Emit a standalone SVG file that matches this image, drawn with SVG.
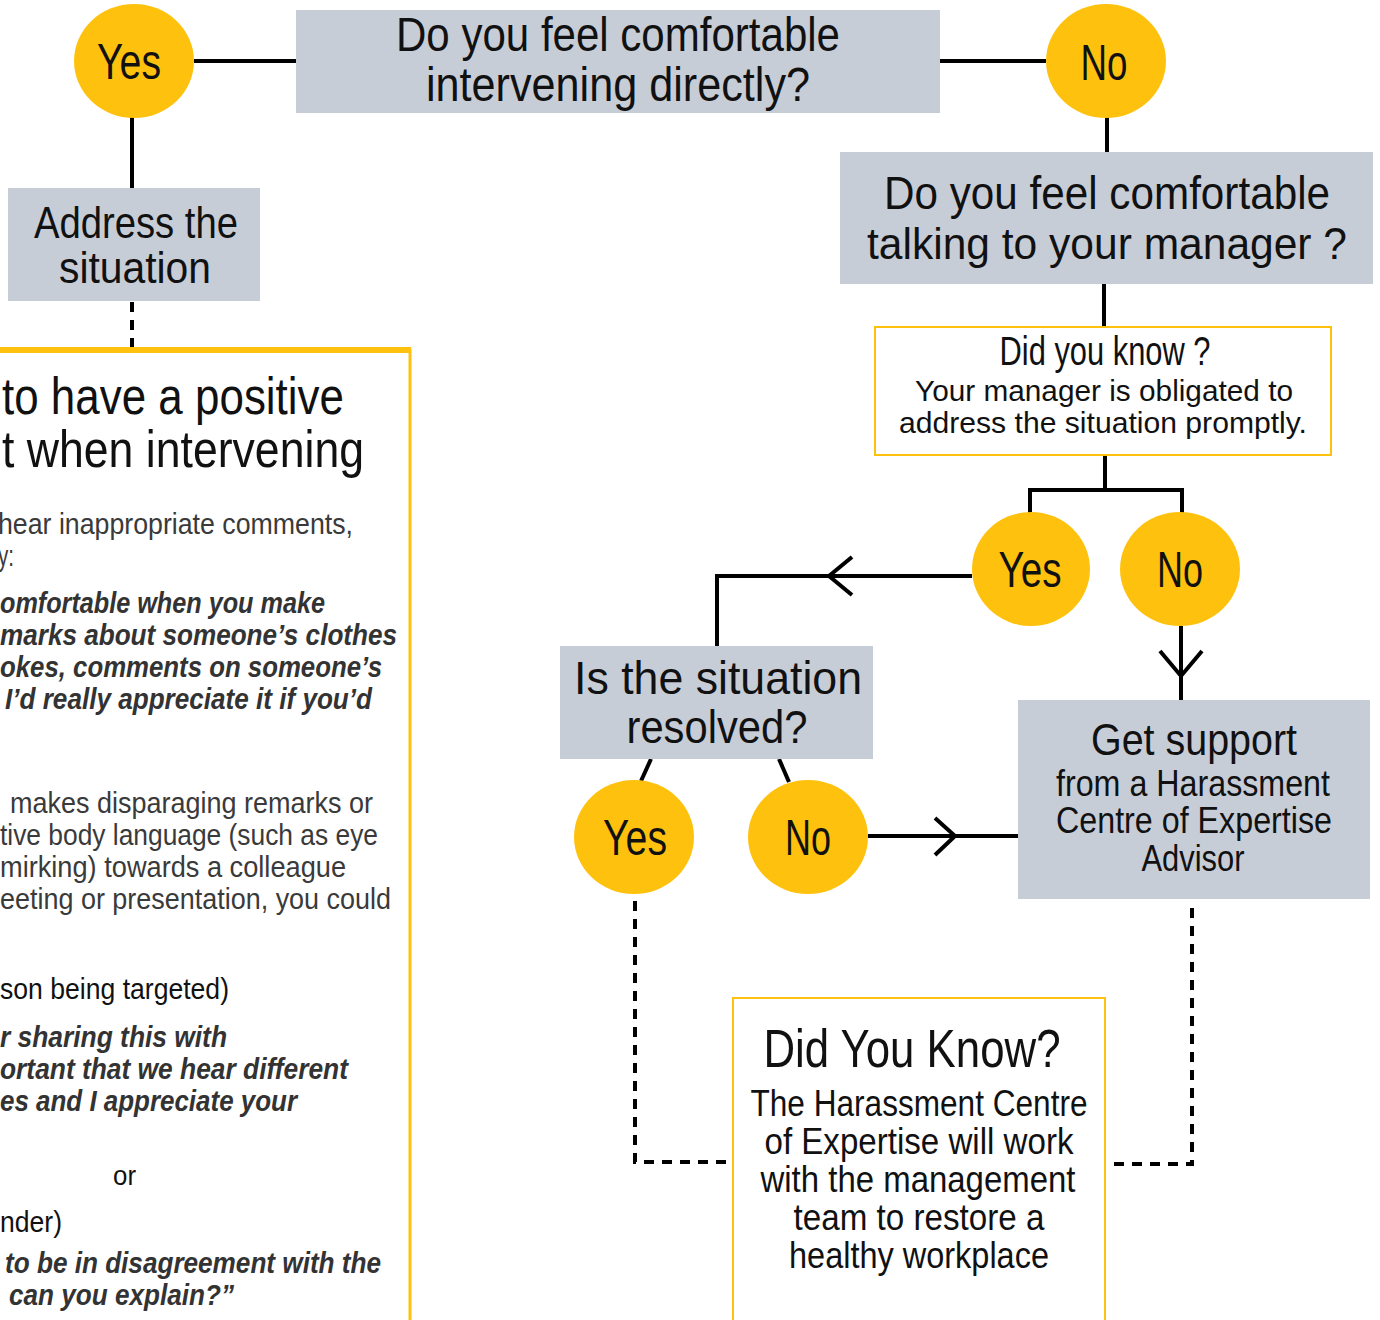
<svg xmlns="http://www.w3.org/2000/svg" width="1380" height="1320" viewBox="0 0 1380 1320">
<style>
.t{font-family:"Liberation Sans","DejaVu Sans",sans-serif;fill:#111;}
.c{text-anchor:middle;}
.b{font-family:"Liberation Sans","DejaVu Sans",sans-serif;fill:#3a3a3a;}
.bi{font-family:"Liberation Sans","DejaVu Sans",sans-serif;fill:#333;font-weight:bold;font-style:italic;}
.box{fill:#C7CDD7;}
.dot{fill:#FEC20E;}
.ybox{fill:#fff;stroke:#FEC20E;stroke-width:2;}
.ln{stroke:#000;stroke-width:4;fill:none;}
.ds{stroke:#000;stroke-width:4;fill:none;stroke-dasharray:10 8;}
</style>
<rect width="1380" height="1320" fill="#fff"/>
<g id="connectors">
<line class="ln" x1="194" y1="61" x2="296" y2="61"/>
<line class="ln" x1="940" y1="61" x2="1046" y2="61"/>
<line class="ln" x1="132" y1="117" x2="132" y2="188"/>
<line class="ds" x1="132" y1="302" x2="132" y2="347" stroke-dasharray="12 8"/>
<line class="ln" x1="1107" y1="117" x2="1107" y2="152"/>
<line class="ln" x1="1104" y1="284" x2="1104" y2="327"/>
<polyline class="ln" points="1105,455 1105,490"/>
<polyline class="ln" points="1030,514 1030,490 1182,490 1182,514"/>
<polyline class="ln" points="972,576 717,576 717,646"/>
<polyline class="ln" stroke-width="3" points="852,557 829,576 852,595"/>
<line class="ln" x1="651" y1="759" x2="641" y2="781"/>
<line class="ln" x1="779" y1="759" x2="789" y2="782"/>
<line class="ln" x1="868" y1="836" x2="1018" y2="836"/>
<polyline class="ln" stroke-width="3" points="935,818 955,836 935,855"/>
<line class="ln" x1="1181" y1="626" x2="1181" y2="700"/>
<polyline class="ln" stroke-width="3" points="1160,651 1181,676 1202,651"/>
<polyline class="ds" points="635,901 635,1162 730,1162"/>
<polyline class="ds" points="1192,908 1192,1164 1106,1164"/>
</g>
<g id="guide">
<rect x="-10" y="350" width="420" height="1000" fill="#fff" stroke="#FEC20E" stroke-width="3"/>
<line x1="0" y1="350" x2="411" y2="350" stroke="#FEC20E" stroke-width="6"/>
<text class="t" font-size="52" x="2" y="414" textLength="342" lengthAdjust="spacingAndGlyphs">to have a positive</text>
<text class="t" font-size="52" x="2" y="467" textLength="362" lengthAdjust="spacingAndGlyphs">t when intervening</text>
<text class="b" font-size="30" x="-2" y="534" textLength="355" lengthAdjust="spacingAndGlyphs">hear inappropriate comments,</text>
<text class="b" font-size="30" x="-2" y="566" textLength="16" lengthAdjust="spacingAndGlyphs">y:</text>
<text class="bi" font-size="29" x="0" y="613" textLength="325" lengthAdjust="spacingAndGlyphs">omfortable when you make</text>
<text class="bi" font-size="29" x="0" y="645" textLength="397" lengthAdjust="spacingAndGlyphs">marks about someone’s clothes</text>
<text class="bi" font-size="29" x="0" y="677" textLength="382" lengthAdjust="spacingAndGlyphs">okes, comments on someone’s</text>
<text class="bi" font-size="29" x="5" y="709" textLength="367" lengthAdjust="spacingAndGlyphs">I’d really appreciate it if you’d</text>
<text class="b" font-size="30" x="10" y="813" textLength="363" lengthAdjust="spacingAndGlyphs">makes disparaging remarks or</text>
<text class="b" font-size="30" x="0" y="845" textLength="378" lengthAdjust="spacingAndGlyphs">tive body language (such as eye</text>
<text class="b" font-size="30" x="0" y="877" textLength="346" lengthAdjust="spacingAndGlyphs">mirking) towards a colleague</text>
<text class="b" font-size="30" x="0" y="909" textLength="391" lengthAdjust="spacingAndGlyphs">eeting or presentation, you could</text>
<text class="t" font-size="30" x="0" y="999" textLength="229" lengthAdjust="spacingAndGlyphs" fill="#222">son being targeted)</text>
<text class="bi" font-size="29" x="0" y="1047" textLength="227" lengthAdjust="spacingAndGlyphs">r sharing this with</text>
<text class="bi" font-size="29" x="0" y="1079" textLength="348" lengthAdjust="spacingAndGlyphs">ortant that we hear different</text>
<text class="bi" font-size="29" x="0" y="1111" textLength="297" lengthAdjust="spacingAndGlyphs">es and I appreciate your</text>
<text class="t" font-size="28" x="113" y="1185" textLength="23" lengthAdjust="spacingAndGlyphs" fill="#222">or</text>
<text class="t" font-size="30" x="0" y="1232" textLength="62" lengthAdjust="spacingAndGlyphs" fill="#222">nder)</text>
<text class="bi" font-size="29" x="5" y="1273" textLength="376" lengthAdjust="spacingAndGlyphs">to be in disagreement with the</text>
<text class="bi" font-size="29" x="9" y="1305" textLength="225" lengthAdjust="spacingAndGlyphs">can you explain?”</text>
</g>
<g id="q1">
<rect class="box" x="296" y="10" width="644" height="103"/>
<text class="t c" font-size="48" x="618" y="51" textLength="444" lengthAdjust="spacingAndGlyphs">Do you feel comfortable</text>
<text class="t c" font-size="48" x="618" y="101" textLength="384" lengthAdjust="spacingAndGlyphs">intervening directly?</text>
</g>
<g id="yes1">
<ellipse class="dot" cx="134" cy="61" rx="60" ry="57"/>
<text class="t c" font-size="50" x="129" y="79" textLength="64" lengthAdjust="spacingAndGlyphs">Yes</text>
</g>
<g id="no1">
<ellipse class="dot" cx="1106" cy="61" rx="60" ry="57"/>
<text class="t c" font-size="50" x="1104" y="80" textLength="47" lengthAdjust="spacingAndGlyphs">No</text>
</g>
<g id="address">
<rect class="box" x="8" y="188" width="252" height="113"/>
<text class="t c" font-size="44" x="136" y="238" textLength="204" lengthAdjust="spacingAndGlyphs">Address the</text>
<text class="t c" font-size="44" x="135" y="283" textLength="152" lengthAdjust="spacingAndGlyphs">situation</text>
</g>
<g id="q2">
<rect class="box" x="840" y="152" width="533" height="132"/>
<text class="t c" font-size="46" x="1107" y="209" textLength="446" lengthAdjust="spacingAndGlyphs">Do you feel comfortable</text>
<text class="t c" font-size="44" x="1107" y="259" textLength="480" lengthAdjust="spacingAndGlyphs">talking to your manager ?</text>
</g>
<g id="didyouknow1">
<rect class="ybox" x="875" y="327" width="456" height="128"/>
<text class="t c" font-size="40" x="1105" y="365" textLength="211" lengthAdjust="spacingAndGlyphs">Did you know ?</text>
<text class="t c" font-size="30" x="1104" y="401" textLength="378" lengthAdjust="spacingAndGlyphs">Your manager is obligated to</text>
<text class="t c" font-size="30" x="1103" y="433" textLength="408" lengthAdjust="spacingAndGlyphs">address the situation promptly.</text>
</g>
<g id="yes2">
<ellipse class="dot" cx="1031" cy="569" rx="59" ry="57"/>
<text class="t c" font-size="50" x="1030" y="587" textLength="63" lengthAdjust="spacingAndGlyphs">Yes</text>
</g>
<g id="no2">
<ellipse class="dot" cx="1180" cy="569" rx="60" ry="57"/>
<text class="t c" font-size="50" x="1180" y="587" textLength="46" lengthAdjust="spacingAndGlyphs">No</text>
</g>
<g id="q3">
<rect class="box" x="560" y="646" width="313" height="113"/>
<text class="t c" font-size="47" x="718" y="694" textLength="288" lengthAdjust="spacingAndGlyphs">Is the situation</text>
<text class="t c" font-size="47" x="717" y="743" textLength="181" lengthAdjust="spacingAndGlyphs">resolved?</text>
</g>
<g id="yes3">
<ellipse class="dot" cx="634" cy="837" rx="60" ry="57"/>
<text class="t c" font-size="50" x="635" y="855" textLength="64" lengthAdjust="spacingAndGlyphs">Yes</text>
</g>
<g id="no3">
<ellipse class="dot" cx="808" cy="837" rx="60" ry="57"/>
<text class="t c" font-size="50" x="808" y="855" textLength="46" lengthAdjust="spacingAndGlyphs">No</text>
</g>
<g id="support">
<rect class="box" x="1018" y="700" width="352" height="199"/>
<text class="t c" font-size="44" x="1194" y="755" textLength="206" lengthAdjust="spacingAndGlyphs">Get support</text>
<text class="t c" font-size="36" x="1193" y="796" textLength="274" lengthAdjust="spacingAndGlyphs">from a Harassment</text>
<text class="t c" font-size="36" x="1194" y="833" textLength="276" lengthAdjust="spacingAndGlyphs">Centre of Expertise</text>
<text class="t c" font-size="36" x="1193" y="871" textLength="103" lengthAdjust="spacingAndGlyphs">Advisor</text>
</g>
<g id="didyouknow2">
<rect class="ybox" x="733" y="998" width="372" height="340"/>
<text class="t c" font-size="54" x="912" y="1067" textLength="297" lengthAdjust="spacingAndGlyphs">Did You Know?</text>
<text class="t c" font-size="36" x="919" y="1116" textLength="337" lengthAdjust="spacingAndGlyphs">The Harassment Centre</text>
<text class="t c" font-size="36" x="919" y="1154" textLength="309" lengthAdjust="spacingAndGlyphs">of Expertise will work</text>
<text class="t c" font-size="36" x="918" y="1192" textLength="315" lengthAdjust="spacingAndGlyphs">with the management</text>
<text class="t c" font-size="36" x="919" y="1230" textLength="251" lengthAdjust="spacingAndGlyphs">team to restore a</text>
<text class="t c" font-size="36" x="919" y="1268" textLength="260" lengthAdjust="spacingAndGlyphs">healthy workplace</text>
</g>
</svg>
